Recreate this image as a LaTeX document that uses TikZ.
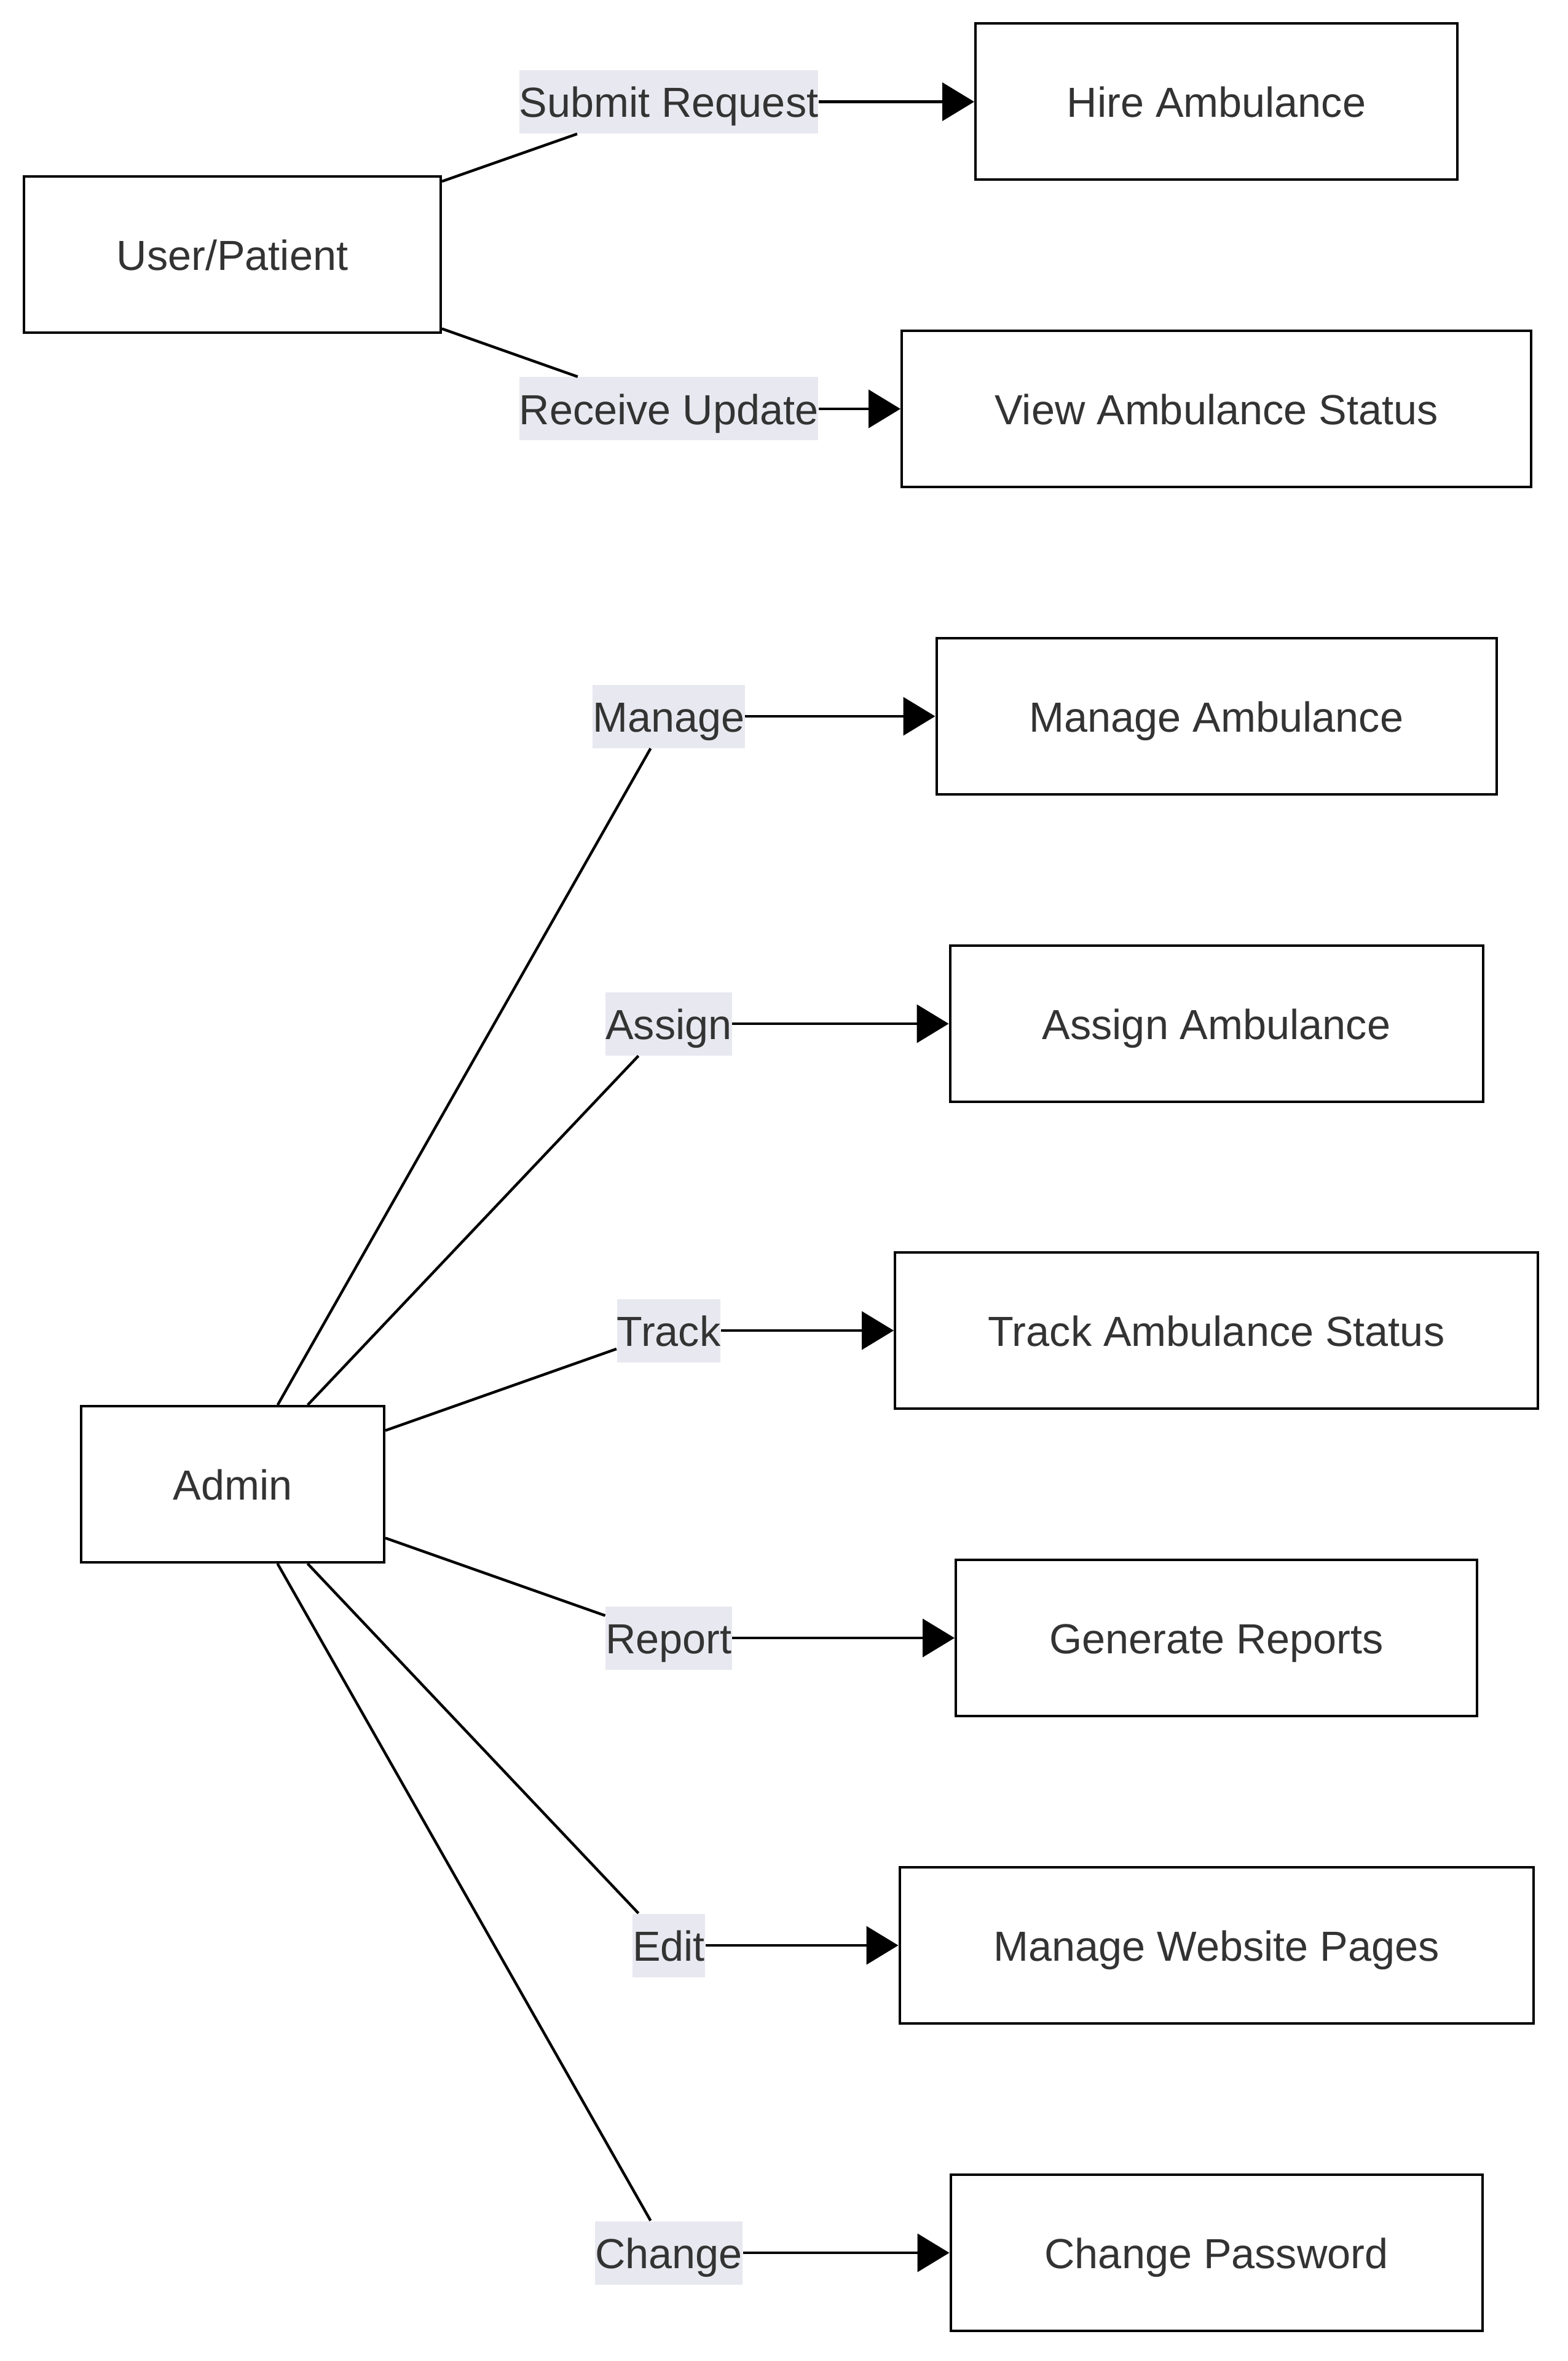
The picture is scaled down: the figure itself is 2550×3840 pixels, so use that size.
\documentclass[tikz,border=0pt]{standalone}
\usepackage{fontspec}
\setmainfont{Liberation Sans}
\usetikzlibrary{arrows.meta}
\definecolor{txt}{HTML}{333333}
\definecolor{lblbg}{HTML}{E8E8F0}
\begin{document}
\begin{tikzpicture}[x=0.25pt,y=-0.25pt,
  every node/.style={font=\fontsize{17.1}{20}\selectfont, text=txt, text height=12.5pt, text depth=0pt},
  box/.style={draw=black, line width=1pt, fill=white, minimum height=63.5pt, inner sep=0pt},
  lbl/.style={fill=lblbg, inner xsep=0pt, inner ysep=0pt, minimum height=25.75pt},
  edge/.style={draw=black, line width=1.1pt},
  arr/.style={edge, -{Triangle[length=13pt,width=15.5pt]}}]
\useasboundingbox (0,0) rectangle (2550,3840);
% source nodes
\node[box, minimum width=169.5pt] (user) at (378,414.5) {User/Patient};
\node[box, minimum width=123.25pt] (admin) at (378.5,2414) {Admin};
% target nodes
\node[box, minimum width=196pt] (hire) at (1979,165.5) {Hire Ambulance};
\node[box, minimum width=256pt] (view) at (1979,665) {View Ambulance Status};
\node[box, minimum width=227.75pt] (mamb) at (1979,1165) {Manage Ambulance};
\node[box, minimum width=216.75pt] (assign) at (1979,1665) {Assign Ambulance};
\node[box, minimum width=261.5pt] (track) at (1979,2164) {Track Ambulance Status};
\node[box, minimum width=212pt] (gen) at (1979,2664) {Generate Reports};
\node[box, minimum width=257.75pt] (web) at (1979,3164) {Manage Website Pages};
\node[box, minimum width=216.25pt] (pwd) at (1979,3664) {Change Password};
% edge labels
\node[lbl] (lsubmit) at (1088,165.5) {Submit Request};
\node[lbl] (lreceive) at (1088,665) {Receive Update};
\node[lbl] (lmanage) at (1088,1165) {Manage};
\node[lbl] (lassign) at (1088,1665) {Assign};
\node[lbl] (ltrack) at (1088,2164) {Track};
\node[lbl] (lreport) at (1088,2664) {Report};
\node[lbl] (ledit) at (1088,3164) {Edit};
\node[lbl] (lchange) at (1088,3664) {Change};
% edges
\draw[edge] (user) -- (lsubmit);
\draw[arr] (lsubmit) -- (hire);
\draw[edge] (user) -- (lreceive);
\draw[arr] (lreceive) -- (view);
\draw[edge] (admin) -- (lmanage);
\draw[arr] (lmanage) -- (mamb);
\draw[edge] (admin) -- (lassign);
\draw[arr] (lassign) -- (assign);
\draw[edge] (admin) -- (ltrack);
\draw[arr] (ltrack) -- (track);
\draw[edge] (admin) -- (lreport);
\draw[arr] (lreport) -- (gen);
\draw[edge] (admin) -- (ledit);
\draw[arr] (ledit) -- (web);
\draw[edge] (admin) -- (lchange);
\draw[arr] (lchange) -- (pwd);
\end{tikzpicture}
\end{document}
